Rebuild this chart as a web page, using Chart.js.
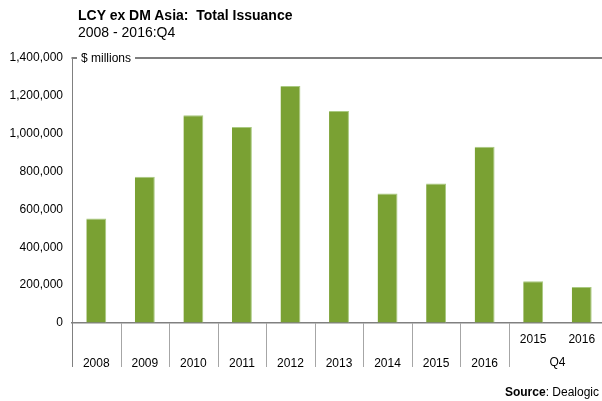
<!DOCTYPE html>
<html>
<head>
<meta charset="utf-8">
<script src="https://cdn.jsdelivr.net/npm/chart.js@4"></script>
<style>
  body { margin: 0; overflow: hidden; background: #fff; }
  #wrap { position: relative; width: 610px; height: 401px; font-family: "Liberation Sans", Arial, sans-serif; color: #000; }
  #title { position: absolute; left: 78px; top: 7px; font-size: 14px; font-weight: bold; white-space: pre; }
  #subtitle { position: absolute; left: 78px; top: 24px; font-size: 14px; }
  #source { position: absolute; right: 11px; top: 385px; font-size: 12px; }
</style>
</head>
<body>
<div id="wrap">
  <canvas id="chart" width="610" height="401"></canvas>
  <div id="title">LCY ex DM Asia:  Total Issuance</div>
  <div id="subtitle">2008 - 2016:Q4</div>
  <div id="source"><b>Source</b>: Dealogic</div>
</div>
<script>
// Chart data
const years = ["2008", "2009", "2010", "2011", "2012", "2013", "2014", "2015", "2016"];
const quarterYears = ["2015", "2016"];
const quarterLabel = "Q4";
const issuance = [552000, 772000, 1098000, 1035000, 1252000, 1120000, 684000, 737000, 931000, 220000, 190000];
const yTicks = [0, 200000, 400000, 600000, 800000, 1000000, 1200000, 1400000];
const unitLabel = "$ millions";

// two-line category labels: annual on the lower line, Q4 years on the upper
const labels = years.map(y => ["", y]).concat(quarterYears.map(y => [y, ""]));

const FONT = "'Liberation Sans', Arial, sans-serif";
Chart.defaults.font.family = FONT;
Chart.defaults.color = "#000";

const extras = {
  id: "extras",
  afterDraw(chart) {
    const c = chart.ctx;
    const area = chart.chartArea;
    const xs = chart.scales.x;
    const n = labels.length;
    const w = xs.width / n;

    // category separators below the axis
    c.save();
    c.lineWidth = 1;
    for (let i = 0; i < n; i++) {
      if (i === years.length + 1) continue; // none between the Q4 years
      const x = Math.round(xs.getPixelForValue(i) - w / 2) + 0.5;
      c.strokeStyle = i === 0 ? "#808080" : "#a6a6a6";
      c.beginPath();
      c.moveTo(x, area.bottom);
      c.lineTo(x, 367);
      c.stroke();
    }

    // Q4 group label
    const qx = (xs.getPixelForValue(years.length) + xs.getPixelForValue(n - 1)) / 2;
    c.font = "12px " + FONT;
    c.fillStyle = "#000";
    c.textAlign = "center";
    c.textBaseline = "middle";
    c.fillText(quarterLabel, qx, 363);

    // top frame line with unit label
    const tx = area.left + 9;
    const tw = c.measureText(unitLabel).width;
    c.strokeStyle = "#7f7f7f";
    c.lineWidth = 2;
    c.beginPath();
    c.moveTo(area.left - 0.5, area.top);
    c.lineTo(area.left + 5, area.top);
    c.moveTo(tx + tw + 4, area.top);
    c.lineTo(chart.width, area.top);
    c.stroke();
    c.textAlign = "left";
    c.fillText(unitLabel, tx, area.top + 1);
    c.restore();
  }
};

new Chart(document.getElementById("chart"), {
  type: "bar",
  data: {
    labels: labels,
    datasets: [
      {
        data: issuance,
        backgroundColor: "#7aa133",
        borderColor: "#a9c980",
        borderWidth: { top: 1, left: 0, right: 1, bottom: 0 },
        barPercentage: 0.41,
        categoryPercentage: 1,
      },
    ],
  },
  options: {
    responsive: false,
    animation: false,
    layout: { padding: { top: 58, right: 4, left: 0, bottom: 0 } },
    plugins: { legend: { display: false }, tooltip: { enabled: false } },
    scales: {
      x: {
        offset: true,
        grid: { drawOnChartArea: false, drawTicks: false },
        border: { color: "#808080", width: 1.5 },
        ticks: {
          font: { size: 12, lineHeight: 2 },
          padding: 5,
          maxRotation: 0,
          autoSkip: false,
        },
        afterFit(scale) { scale.height = 78; },
      },
      y: {
        min: 0,
        max: 1400000,
        afterBuildTicks(scale) { scale.ticks = yTicks.map(v => ({ value: v })); },
        grid: { drawOnChartArea: false, drawTicks: false },
        border: { color: "#808080", width: 1 },
        ticks: {
          font: { size: 12 },
          padding: 9,
          callback: v => v.toLocaleString("en-US"),
        },
        afterFit(scale) { scale.width = 72; },
      },
    },
  },
  plugins: [extras],
});
</script>
</body>
</html>
